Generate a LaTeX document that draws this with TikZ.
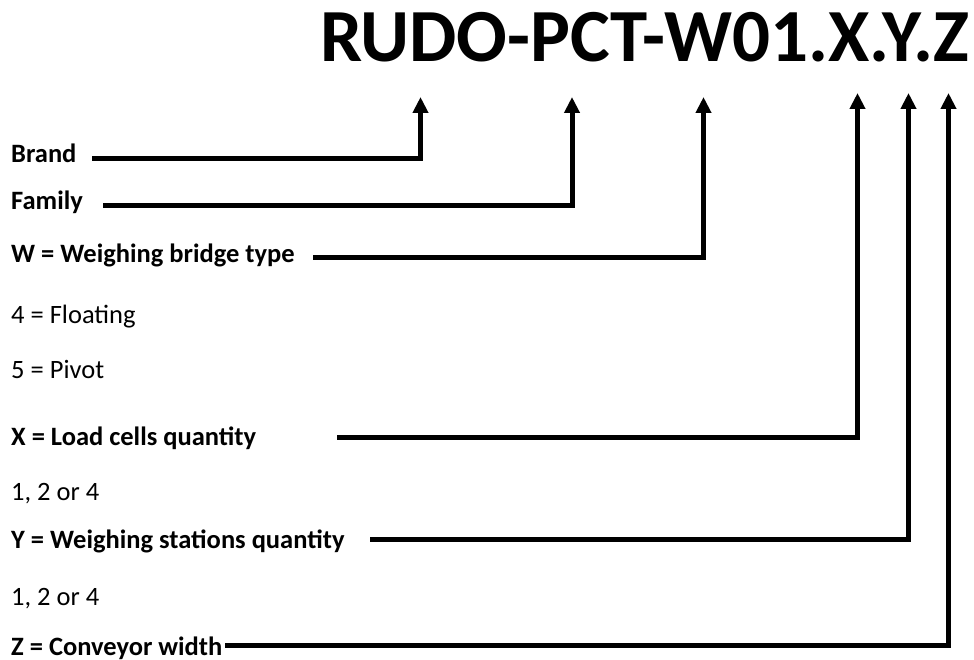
\documentclass[tikz,border=0pt]{standalone}
\usepackage{fontspec}
\setmainfont{Carlito}
\usetikzlibrary{arrows.meta}
\tikzset{
  lbl/.style={anchor=base west, inner sep=0pt, font=\fontsize{26.5}{30}\selectfont\bfseries},
  val/.style={anchor=base west, inner sep=0pt, font=\fontsize{26.5}{30}\selectfont},
  ttl/.style={anchor=base west, inner sep=0pt, font=\fontsize{75}{80}\selectfont\bfseries},
  arr/.style={line width=5pt, -{Triangle[width=15pt,length=16pt]}}
}
\begin{document}
\begin{tikzpicture}[x=1pt,y=-1pt]
\useasboundingbox (0,0) rectangle (974,660);
\node[ttl] (title) at (320,61.7) {RUDO-PCT-W01.X.Y.Z};
\node[lbl] (brand) at (11,162.5) {Brand};
\node[lbl] (family) at (11,210) {Family};
\node[lbl] (wtype) at (11,262) {W = Weighing bridge type};
\node[val] (float) at (11,323.3) {4 = Floating};
\node[val] (pivot) at (11,378.3) {5 = Pivot};
\node[lbl] (xq) at (11,445) {X = Load cells quantity};
\node[val] (xv) at (11,500.7) {1, 2 or 4};
\node[lbl] (yq) at (11,548.3) {Y = Weighing stations quantity};
\node[val] (yv) at (11,605) {1, 2 or 4};
\node[lbl] (zq) at (11,655) {Z = Conveyor width};
% connector ends
\coordinate (bS) at (92,158.5);   \coordinate (bT) at (420.5,97);
\coordinate (fS) at (103,205.5);  \coordinate (fT) at (572,97);
\coordinate (wS) at (313,258);    \coordinate (wT) at (703.5,97);
\coordinate (xS) at (337,437.5);  \coordinate (xT) at (857.5,93);
\coordinate (yS) at (370,539.5);  \coordinate (yT) at (908.5,93);
\coordinate (zS) at (225,645.5);  \coordinate (zT) at (948.5,93);
\draw[arr] (bS) -| (bT);
\draw[arr] (fS) -| (fT);
\draw[arr] (wS) -| (wT);
\draw[arr] (xS) -| (xT);
\draw[arr] (yS) -| (yT);
\draw[arr] (zS) -| (zT);
\end{tikzpicture}
\end{document}
